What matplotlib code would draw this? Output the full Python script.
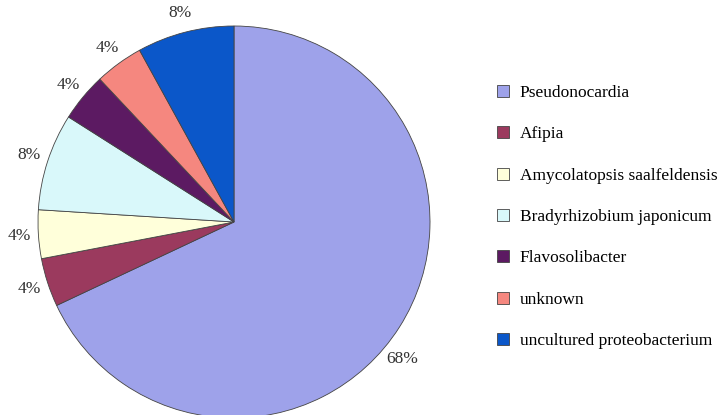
import matplotlib.pyplot as plt

plt.rcParams['font.family'] = ['Liberation Serif', 'DejaVu Serif']

names = ['Pseudonocardia', 'Afipia', 'Amycolatopsis saalfeldensis',
         'Bradyrhizobium japonicum', 'Flavosolibacter', 'unknown',
         'uncultured proteobacterium']
shares = [68, 4, 4, 8, 4, 4, 8]
colors = ['#9ea2ea', '#9b3a5e', '#ffffda', '#d9f8fa', '#5c1a62', '#f5877f', '#0b57c9']

fig = plt.figure(figsize=(7.18, 4.15), dpi=100)
ax = fig.add_axes([38 / 718, -3 / 415, 392 / 718, 392 / 415])

wedges, texts, autotexts = ax.pie(
    shares, colors=colors, startangle=90, counterclock=False,
    autopct='%d%%', pctdistance=1.1,
    wedgeprops=dict(edgecolor='#444444', linewidth=0.6),
    textprops=dict(fontsize=12.5, color='#333333'))
ax.set_xlim(-1, 1)
ax.set_ylim(-1, 1)
ax.set_aspect('equal')
# the big slice label sits a bit lower in the original
autotexts[0].set_position((0.86, -0.70))

ax.legend(wedges, names, loc='upper left', bbox_to_anchor=(497 / 718, 1 - 85 / 415),
          bbox_transform=fig.transFigure, frameon=False, fontsize=12.5,
          handlelength=0.7, handleheight=0.7, handletextpad=0.6,
          labelspacing=1.45, borderaxespad=0, borderpad=0)

fig.savefig('out.png', dpi=100)
